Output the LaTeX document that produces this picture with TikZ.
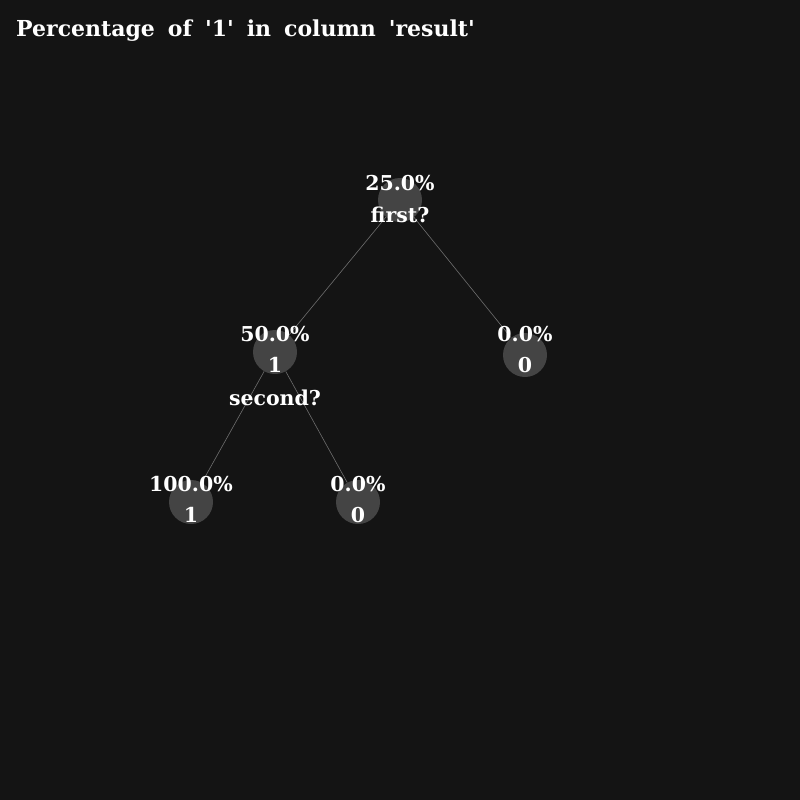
\documentclass[tikz,border=0pt]{standalone}
\usepackage{fontspec}
\setmainfont{DejaVu Serif}
\definecolor{bg}{HTML}{141414}
\definecolor{dot}{HTML}{444444}
\definecolor{edge}{HTML}{6E6E6E}
\newcommand{\wsp}{\hspace{13pt}}
\begin{document}
\begin{tikzpicture}[x=1pt,y=-1pt,
  dotnode/.style={circle,fill=dot,minimum size=44pt,inner sep=0pt},
  lbl/.style={text=white,font=\fontsize{20.5}{24}\selectfont\bfseries,inner sep=0pt},
  edgeline/.style={draw=edge,line width=0.6pt}]
\fill[bg] (0,0) rectangle (800,800);
\useasboundingbox (0,0) rectangle (800,800);
% circles
\node[dotnode] (r) at (400,200) {};
\node[dotnode] (a) at (275,352) {};
\node[dotnode] (b) at (525,355) {};
\node[dotnode] (c) at (191,502) {};
\node[dotnode] (d) at (358,502) {};
% edges
\draw[edgeline] (r) -- (a);
\draw[edgeline] (r) -- (b);
\draw[edgeline] (a) -- (c);
\draw[edgeline] (a) -- (d);
% labels
\node[lbl] (rt1) at (400,183) {25.0\%};
\node[lbl] (rt2) at (400,215) {first?};
\node[lbl] (at1) at (275,334) {50.0\%};
\node[lbl] (at2) at (275,365) {1};
\node[lbl] (at3) at (275,398) {second?};
\node[lbl] (bt1) at (525,334) {0.0\%};
\node[lbl] (bt2) at (525,365) {0};
\node[lbl] (ct1) at (191,484) {100.0\%};
\node[lbl] (ct2) at (191,515) {1};
\node[lbl] (dt1) at (358,484) {0.0\%};
\node[lbl] (dt2) at (358,515) {0};
\node[lbl,anchor=base west,font=\fontsize{22}{26}\selectfont\bfseries] (title) at (16,37) {Percentage\wsp of\wsp \textquotesingle 1\textquotesingle\wsp in\wsp column\wsp \textquotesingle result\textquotesingle};
\end{tikzpicture}
\end{document}
